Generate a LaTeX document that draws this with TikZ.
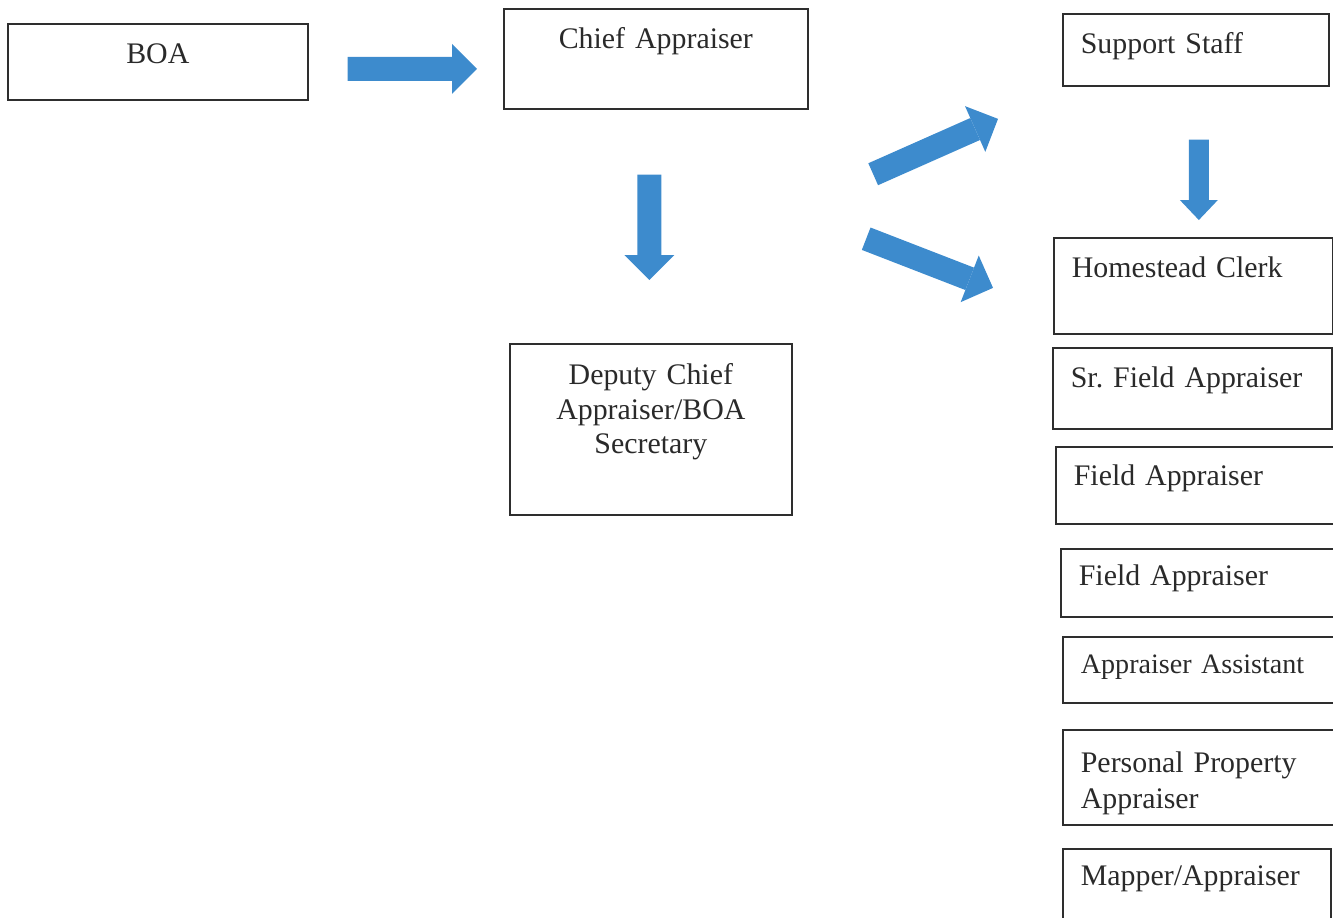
\documentclass[tikz,border=0pt]{standalone}
\usepackage{fontspec}
\setmainfont{Liberation Serif}
\usepackage{xcolor}
\definecolor{arrowBlue}{HTML}{3D8BCD}
\definecolor{boxLine}{HTML}{2E2E2E}
\definecolor{boxText}{HTML}{2A2A2A}
\usepackage{tikz}
\usetikzlibrary{arrows.meta}
\frenchspacing
\tikzset{
    % Base style for all boxes
    org base/.style={
        font=\fontsize{17}{20}\selectfont,
        text=boxText,
        draw=boxLine,
        line width=1pt,
        rectangle,
        anchor=north west,
        inner ysep=0pt,
    },
    % Boxes with the title in the middle
    head box/.style={
        org base,
        align=center,
        inner xsep=0.1cm,
    },
    % Staff boxes on the right, text to the left
    staff box/.style={
        org base,
        align=left,
        inner xsep=0.36cm,
    },
    % Wide blue block arrow
    block arrow/.style={
        -{Triangle[length=0.5cm, width=1cm, line width=0pt]},
        line width=0.48cm,
        draw=arrowBlue,
    },
    % Narrow block arrow
    block arrow small/.style={
        -{Triangle[length=0.4cm, width=0.76cm, line width=0pt]},
        line width=0.4cm,
        draw=arrowBlue,
    },
}

\begin{document}
\begin{tikzpicture}[x=0.02cm, y=-0.02cm]
    \useasboundingbox (0,0) rectangle (1333,917);
    \clip (0,0) rectangle (1333,917);

    % left and middle
    \node (boa) [head box, text width=5.8cm, text height=0.8cm, text depth=0.72cm] at (7,23) {BOA};
    \node (chief) [head box, text width=5.88cm, text height=0.8cm, text depth=1.2cm] at (503,8) {Chief Appraiser};
    \node (deputy) [head box, text width=5.44cm, text height=0.82cm, text depth=2.6cm, font=\fontsize{17}{19.6}\selectfont] at (509,343) {Deputy Chief\\Appraiser/BOA\\Secretary};

    % staff column
    \node (support) [staff box, text width=4.6cm, text height=0.8cm, text depth=0.64cm] at (1062,13) {Support Staff};
    \node (homestead) [staff box, text width=4.86cm, text height=0.8cm, text depth=1.12cm] at (1053,237) {Homestead Clerk};
    \node (srfield) [staff box, text width=4.86cm, text height=0.8cm, text depth=0.82cm] at (1052,347) {Sr. Field Appraiser};
    \node (field1) [staff box, text width=4.84cm, text height=0.78cm, text depth=0.76cm] at (1055,446) {Field Appraiser};
    \node (field2) [staff box, text width=4.74cm, text height=0.74cm, text depth=0.62cm] at (1060,548) {Field Appraiser};
    \node (asst) [staff box, text width=4.7cm, text height=0.74cm, text depth=0.58cm, font=\fontsize{16}{20}\selectfont] at (1062,636) {Appraiser Assistant};
    \node (personal) [staff box, text width=4.7cm, text height=0.86cm, text depth=1.04cm] at (1062,729) {Personal Property\\Appraiser};
    \node (mapper) [staff box, text width=4.64cm, text height=0.74cm, text depth=0.9cm] at (1062,848) {Mapper/Appraiser};

    \draw [block arrow] ([xshift=0.78cm, yshift=-0.14cm]boa.east) -- ([xshift=-0.52cm, yshift=-0.2cm]chief.west);
    \draw [block arrow] ([xshift=-0.13cm, yshift=-1.3cm]chief.south) -- ([xshift=-0.03cm, yshift=1.26cm]deputy.north);
    \draw [block arrow] ([xshift=1.29cm, yshift=-1.29cm]chief.south east) -- ([xshift=-1.28cm, yshift=-1.38cm]support.west);
    \draw [block arrow] ([xshift=1.15cm, yshift=-2.58cm]chief.south east) -- ([xshift=-1.2cm, yshift=-0.04cm]homestead.west);
    \draw [block arrow small] ([xshift=0.06cm, yshift=-1.06cm]support.south) -- ([xshift=0.11cm, yshift=0.34cm]homestead.north);
\end{tikzpicture}
\end{document}
